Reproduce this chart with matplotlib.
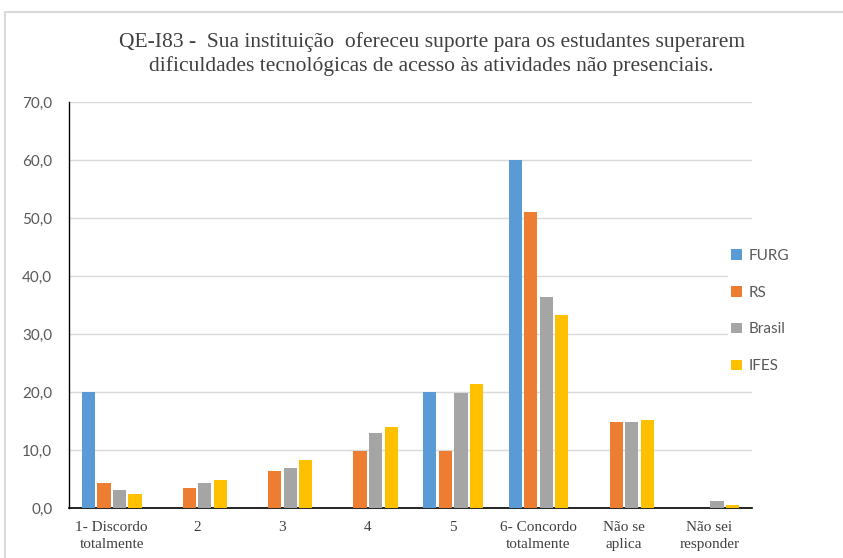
import numpy as np
import matplotlib.pyplot as plt
from matplotlib.patches import Rectangle

# data
categories = ["1- Discordo\ntotalmente", "2", "3", "4", "5",
              "6- Concordo\ntotalmente", "Não se\naplica", "Não sei\nresponder"]
furg = [20.0, 0.0, 0.0, 0.0, 20.0, 60.0, 0.0, 0.0]
rs = [4.3, 3.5, 6.4, 9.9, 9.9, 51.0, 14.9, 0.0]
brasil = [3.1, 4.3, 6.9, 13.0, 19.9, 36.4, 14.9, 1.2]
ifes = [2.5, 4.9, 8.3, 13.9, 21.4, 33.3, 15.1, 0.5]
series_names = ["FURG", "RS", "Brasil", "IFES"]
colors = ["#5b9bd5", "#ed7d31", "#a5a5a5", "#ffc000"]
yticks = [0, 10, 20, 30, 40, 50, 60, 70]

title = ("QE-I83 -  Sua instituição  ofereceu suporte para os estudantes superarem\n"
         "dificuldades tecnológicas de acesso às atividades não presenciais.")

fig = plt.figure(figsize=(8.43, 5.58), dpi=100)
ax = fig.add_axes([0.0819, 0.0896, 0.8101, 0.7276])

x = np.arange(len(categories))
step = 0.182
width = 0.155
for i, (vals, name, c) in enumerate(zip([furg, rs, brasil, ifes], series_names, colors)):
    ax.bar(x + (i - 1.5) * step, vals, width, color=c, label=name, zorder=3)

ax.set_xlim(-0.5, len(categories) - 0.5)
ax.set_ylim(0, 70)
ax.set_yticks(yticks)
ax.set_yticklabels([f"{v:.1f}".replace(".", ",") for v in yticks],
                   fontsize=11, color="#595959", family="Lato")
ax.set_xticks(x)
ax.set_xticklabels(categories, fontsize=11, color="#404040",
                   family="Liberation Serif", linespacing=1.4)
ax.tick_params(axis="both", length=0)
ax.tick_params(axis="y", pad=12)
ax.tick_params(axis="x", pad=9)
ax.grid(axis="y", color="#d9d9d9", lw=1, zorder=0)
for s in ["top", "right"]:
    ax.spines[s].set_visible(False)
ax.spines["left"].set_color("black")
ax.spines["bottom"].set_color("black")
ax.spines["left"].set_linewidth(1)
ax.spines["bottom"].set_linewidth(1.2)

leg = ax.legend(loc="center left", bbox_to_anchor=(0.855, 1 - 311 / 558),
                bbox_transform=fig.transFigure, frameon=True, framealpha=1,
                edgecolor="none", labelspacing=1.5,
                handlelength=0.7, handleheight=0.7, handletextpad=0.4,
                borderpad=0.2, prop={"family": "Lato", "size": 11})
for t in leg.get_texts():
    t.set_color("#595959")

fig.text(0.512, 1 - 54 / 558, title, ha="center", va="center", fontsize=15.5,
         family="Liberation Serif", color="#404040", linespacing=1.25)

# outer chart border
fig.patches.append(Rectangle((5 / 843, -0.01), 1.0, 1 - 12 / 558 + 0.01,
                             transform=fig.transFigure, fill=False,
                             edgecolor="#d9d9d9", lw=1.5))

fig.savefig("out.png", dpi=100)
